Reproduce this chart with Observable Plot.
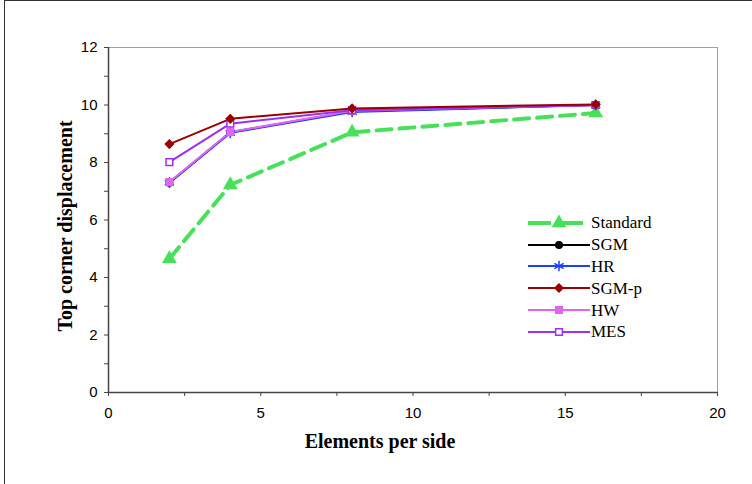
<!DOCTYPE html>
<html>
<head>
<meta charset="utf-8">
<script src="https://cdn.jsdelivr.net/npm/d3@7"></script>
<script src="https://cdn.jsdelivr.net/npm/@observablehq/plot@0.6"></script>
<style>
  html, body { margin: 0; padding: 0; background: white; }
  #wrap { position: relative; width: 752px; height: 484px; overflow: hidden; background: white; }
  #outer { position: absolute; left: 4px; top: 0px; width: 760px; height: 500px; border-left: 1px solid #333; border-top: 1px solid #333; pointer-events: none; }
  #legend { position: absolute; left: 528px; top: 212px; font-family: "Liberation Serif", "Times New Roman", serif; font-size: 17px; color: black; }
  .row { display: flex; align-items: center; height: 21.8px; }
  .row svg { display: block; }
  .row span { margin-left: 0px; line-height: 1; }
</style>
</head>
<body>
<div id="wrap"><div id="outer"></div><div id="legend"></div></div>
<script>
// ---- data ----
const elements = [2, 4, 8, 16];
const standard = [4.65, 7.22, 9.05, 9.72];
const sgm      = [7.30, 9.05, 9.78, 10.00];
const hr       = [7.30, 9.03, 9.76, 10.00];
const sgmp     = [8.64, 9.52, 9.88, 10.02];
const hw       = [7.32, 9.06, 9.80, 10.00];
const mes      = [8.01, 9.35, 9.82, 10.00];

const seriesNames = ["Standard", "SGM", "HR", "SGM-p", "HW", "MES"];
const xTicks = [0, 2.5, 5, 7.5, 10, 12.5, 15, 17.5, 20];
const yTicks = [0, 1, 2, 3, 4, 5, 6, 7, 8, 9, 10, 11, 12];
const xLabel = "Elements per side";
const yLabel = "Top corner displacement";

// ---- styles ----
const styles = {
  "Standard": {values: standard, stroke: "#48e05a", width: 4, dash: "15,8", symbol: "triangle", r: 5.5, fill: "#48e05a", mstroke: "none", msw: 0},
  "SGM":      {values: sgm,  stroke: "#000000", width: 2, dash: null, symbol: "circle", r: 4, fill: "#000000", mstroke: "none", msw: 0},
  "HR":       {values: hr,   stroke: "#1f3dff", width: 2, dash: null, symbol: "asterisk", r: 5, fill: "none", mstroke: "#1f3dff", msw: 1.5},
  "SGM-p":    {values: sgmp, stroke: "#990000", width: 2, dash: null, symbol: "diamond2", r: 4.6, fill: "#990000", mstroke: "none", msw: 0},
  "HW":       {values: hw,   stroke: "#e066f2", width: 2, dash: null, symbol: "square", r: 4.6, fill: "#e066f2", mstroke: "none", msw: 0},
  "MES":      {values: mes,  stroke: "#9b30f0", width: 2, dash: null, symbol: "square", r: 3.8, fill: "white", mstroke: "#9b30f0", msw: 1.5}
};
const drawOrder = ["Standard", "SGM", "HR", "HW", "MES", "SGM-p"];

const lineMarks = [];
const dotMarks = [];
for (const name of drawOrder) {
  const s = styles[name];
  const rows = elements.map((e, i) => ({x: e, y: s.values[i]}));
  lineMarks.push(Plot.line(rows, {x: "x", y: "y", stroke: s.stroke, strokeWidth: s.width, strokeDasharray: s.dash || undefined}));
  dotMarks.push(Plot.dot(rows, {x: "x", y: "y", symbol: s.symbol, r: s.r, fill: s.fill, stroke: s.mstroke, strokeWidth: s.msw}));
}

const chart = Plot.plot({
  width: 752,
  height: 484,
  marginLeft: 108,
  marginRight: 35,
  marginTop: 47,
  marginBottom: 92,
  style: {fontFamily: "'Liberation Sans', Arial, sans-serif", fontSize: "15px", background: "transparent", color: "black"},
  x: {domain: [0, 20]},
  y: {domain: [0, 12]},
  marks: [
    Plot.frame({stroke: "#a0a0a0"}),
    Plot.axisX({ticks: xTicks, tickFormat: d => d % 5 === 0 ? d : "", tickSize: 4, tickPadding: 11, stroke: "#444", fill: "black", fontSize: 15, label: null}),
    Plot.axisY({ticks: yTicks, tickFormat: d => d % 2 === 0 ? d : "", tickSize: 4, tickPadding: 7, stroke: "#444", fill: "black", fontSize: 15, label: null}),
    Plot.ruleX([0], {stroke: "#444", strokeWidth: 1.5}),
    Plot.ruleY([0], {stroke: "#444", strokeWidth: 1.5}),
    ...lineMarks,
    ...dotMarks,
    Plot.text([xLabel], {frameAnchor: "bottom", text: d => d, textAnchor: "middle", lineAnchor: "middle", dx: -33, dy: 49, fontFamily: "'Liberation Serif', 'Times New Roman', serif", fontWeight: "bold", fontSize: 20, fill: "black"}),
    Plot.text([yLabel], {frameAnchor: "left", text: d => d, textAnchor: "middle", lineAnchor: "middle", rotate: -90, dx: -43, dy: 6, fontFamily: "'Liberation Serif', 'Times New Roman', serif", fontWeight: "bold", fontSize: 20, fill: "black"})
  ]
});
document.getElementById("wrap").prepend(chart);

// ---- legend ----
const legend = d3.select("#legend");
for (const name of seriesNames) {
  const s = styles[name];
  const row = legend.append("div").attr("class", "row");
  const svg = row.append("svg").attr("width", 63).attr("height", 20);
  svg.append("line").attr("x1", 0).attr("x2", 62).attr("y1", 10).attr("y2", 10)
    .attr("stroke", s.stroke).attr("stroke-width", s.width)
    .attr("stroke-dasharray", s.dash ? "23,9" : null);
  const symMap = {triangle: d3.symbolTriangle, circle: d3.symbolCircle, asterisk: d3.symbolAsterisk, diamond2: d3.symbolDiamond2, square: d3.symbolSquare};
  svg.append("path").attr("transform", "translate(31,10)")
    .attr("d", d3.symbol(symMap[s.symbol], s.r * s.r * Math.PI)())
    .attr("fill", s.fill).attr("stroke", s.mstroke).attr("stroke-width", s.msw);
  row.append("span").text(name);
}
</script>
</body>
</html>
